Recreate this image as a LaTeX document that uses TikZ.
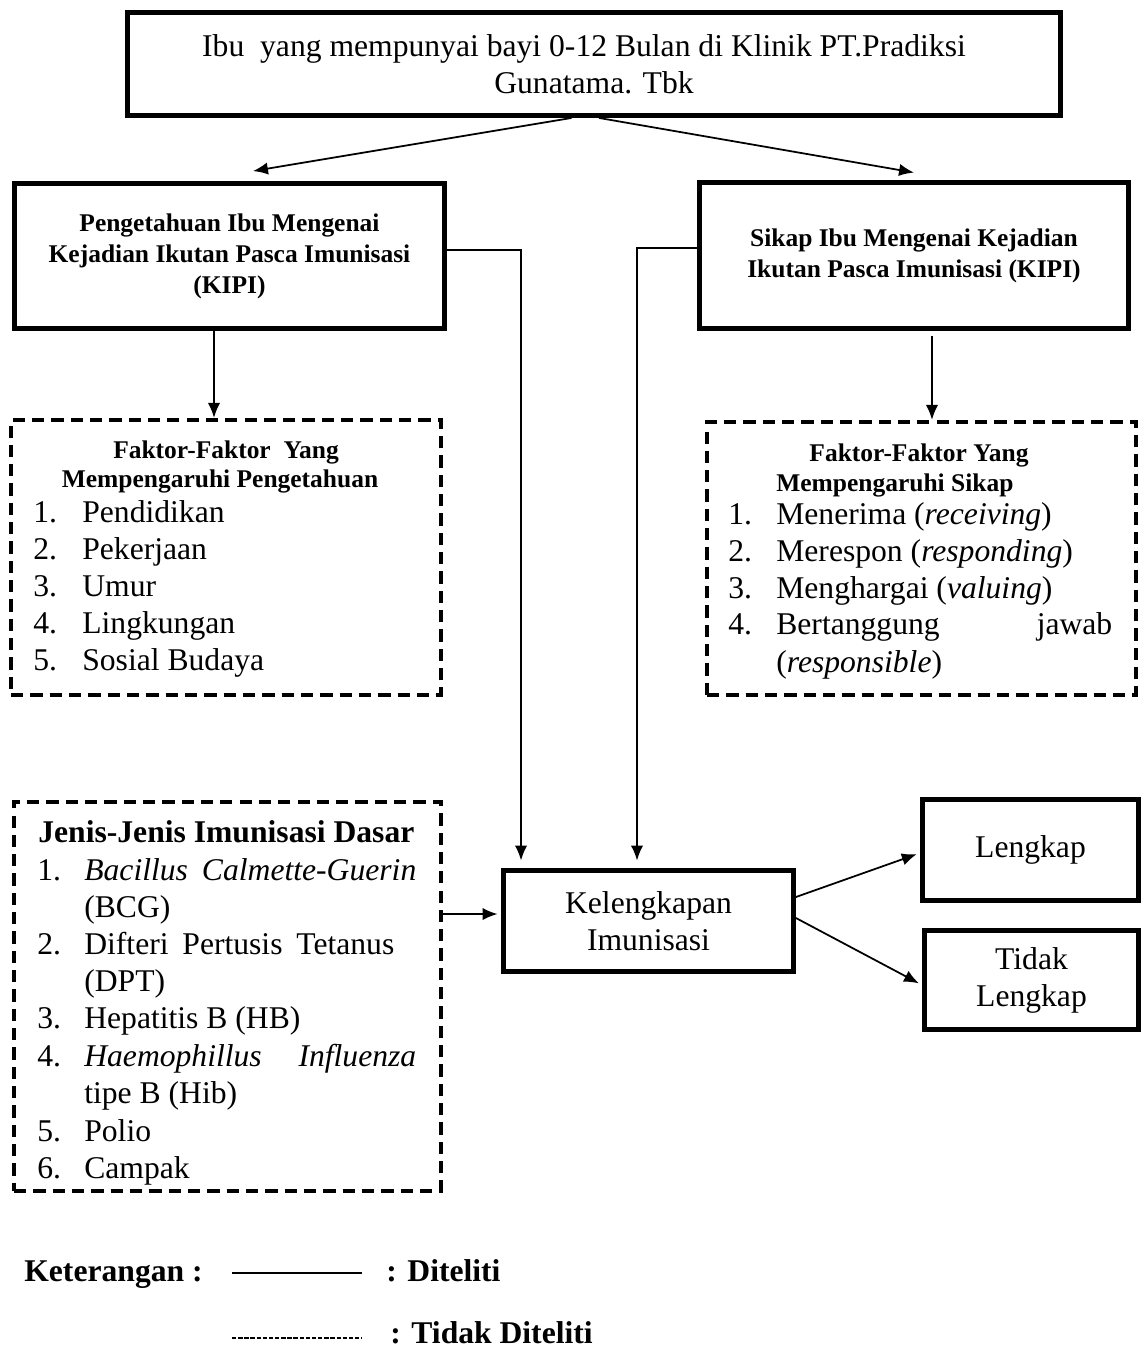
\documentclass[tikz,border=0pt]{standalone}
\usepackage{fontspec}
\setmainfont{Liberation Serif}
\usetikzlibrary{arrows.meta}

\tikzstyle{kotak} = [draw, line width=2.8pt, align=center, inner sep=0pt]
\tikzstyle{putus} = [draw, line width=2.4pt, dash pattern=on 7pt off 4pt, inner sep=0pt]
\tikzstyle{judul} = [font=\fontsize{14.5}{17.6}\selectfont\bfseries, align=center, inner sep=0pt]
\tikzstyle{isi} = [font=\fontsize{18}{21}\selectfont, anchor=base west, inner sep=0pt]
\tikzstyle{panah} = [-{Latex[length=8.5pt,width=7pt]}, line width=1pt]

\begin{document}
\begin{tikzpicture}[x=0.02cm, y=-0.02cm,
font=\fontsize{18}{21}\selectfont,
]
\useasboundingbox (0,0) rectangle (1141,1352);

%IBU
\node[kotak, minimum width=18.66cm, minimum height=2.06cm] (ibu) at (594,64) {Ibu\ \ yang mempunyai bayi 0-12 Bulan di Klinik PT.Pradiksi\hspace*{0.4cm}\\Gunatama. Tbk};

%PENGETAHUAN + SIKAP
\node[kotak, judul, minimum width=8.6cm, minimum height=2.9cm] (peng) at (229.5,256) {Pengetahuan Ibu Mengenai\\Kejadian Ikutan Pasca Imunisasi\\(KIPI)};
\node[kotak, judul, minimum width=8.57cm, minimum height=2.92cm] (sikap) at (914,255.5) {Sikap Ibu Mengenai Kejadian\\Ikutan Pasca Imunisasi (KIPI)};
\draw[panah] ([xshift=-0.45cm]ibu.south) -- ([xshift=0.47cm,yshift=0.2cm]peng.north);
\draw[panah] ([xshift=0.1cm]ibu.south) -- ([yshift=0.15cm]sikap.north);

%FAKTOR PENGETAHUAN
\node[putus, minimum width=8.6cm, minimum height=5.5cm] (fpeng) at (226,557.5) {};
\node[judul, anchor=base] (fpj1) at (226,458) {Faktor-Faktor\ \ Yang};
\node[judul, anchor=base] (fpj2) at (220,487) {Mempengaruhi Pengetahuan};
\foreach \n/\t in {1/Pendidikan,2/Pekerjaan,3/Umur,4/Lingkungan,5/Sosial Budaya} {%
 \node[isi] (fp\n) at (33,{522+37*(\n-1)}) {\makebox[0.98cm][l]{\n.}\t};
}
\draw[panah] ([xshift=-0.31cm]peng.south) -- ([xshift=-0.31cm]peng.south |- fpeng.north);

%FAKTOR SIKAP
\node[putus, minimum width=8.58cm, minimum height=5.46cm] (fsikap) at (921.5,558.5) {};
\node[judul, anchor=base] (fsj1) at (919,461) {Faktor-Faktor Yang};
\node[judul, anchor=base west] (fsj2) at (776,491) {Mempengaruhi Sikap};
\node[isi] (fs1) at (728,524) {\makebox[0.96cm][l]{1.}Menerima (\textit{receiving})};
\node[isi] (fs2) at (728,561) {\makebox[0.96cm][l]{2.}Merespon (\textit{responding})};
\node[isi] (fs3) at (728,598) {\makebox[0.96cm][l]{3.}Menghargai (\textit{valuing})};
\node[isi] (fs4) at (728,634) {\makebox[0.96cm][l]{4.}\makebox[6.72cm][s]{Bertanggung jawab}};
\node[isi] (fs4b) at (776,672) {(\textit{responsible})};
\draw[panah] ([xshift=0.36cm,yshift=-0.1cm]sikap.south) -- ([xshift=0.36cm]sikap.south |- fsikap.north);

%JENIS IMUNISASI
\node[putus, minimum width=8.54cm, minimum height=7.78cm] (jenis) at (227.5,996.5) {};
\node[isi, font=\fontsize{18}{21}\selectfont\bfseries] (jj) at (38,842) {Jenis-Jenis Imunisasi Dasar};
\node[isi] (js1) at (37,880) {\makebox[0.94cm][l]{1.}\makebox[6.64cm][s]{\textit{Bacillus} \textit{Calmette-Guerin}}};
\node[isi] (js1b) at (84,917) {(BCG)};
\node[isi] (js2) at (37,954) {\makebox[0.94cm][l]{2.}\makebox[6.2cm][s]{Difteri Pertusis Tetanus}};
\node[isi] (js2b) at (84,991) {(DPT)};
\node[isi] (js3) at (37,1028) {\makebox[0.94cm][l]{3.}Hepatitis B (HB)};
\node[isi] (js4) at (37,1066) {\makebox[0.94cm][l]{4.}\makebox[6.64cm][s]{\textit{Haemophillus} \textit{Influenza}}};
\node[isi] (js4b) at (84,1103) {tipe B (Hib)};
\node[isi] (js5) at (37,1141) {\makebox[0.94cm][l]{5.}Polio};
\node[isi] (js6) at (37,1178) {\makebox[0.94cm][l]{6.}Campak};

%KELENGKAPAN
\node[kotak, minimum width=5.8cm, minimum height=2.02cm] (kel) at (648.5,921) {Kelengkapan\\Imunisasi};
\node[kotak, minimum width=4.32cm, minimum height=2.02cm] (leng) at (1030.5,850) {Lengkap};
\node[kotak, minimum width=4.28cm, minimum height=1.98cm] (tidak) at (1031.5,980) {Tidak\\Lengkap};
\draw[panah] ([yshift=0.12cm]peng.east) -| ([xshift=-2.55cm,yshift=0.15cm]kel.north);
\draw[panah] ([yshift=0.15cm]sikap.west) -| ([xshift=-0.23cm,yshift=0.15cm]kel.north);
\draw[panah, shorten >=2pt] ([yshift=1.65cm]jenis.east) -- ([yshift=1.65cm]jenis.east -| kel.west);
\draw[panah, shorten >=2pt] ([yshift=0.48cm]kel.east) -- ([yshift=-0.06cm]leng.west);
\draw[panah, shorten >=2pt] ([yshift=0.06cm]kel.east) -- ([yshift=-0.1cm]tidak.west);

%KETERANGAN
\node[isi, font=\fontsize{18}{21}\selectfont\bfseries] (ket) at (24,1281) {Keterangan :};
\coordinate (ga1) at (232,1273);
\coordinate (ga2) at (362,1273);
\draw[line width=1pt] (ga1) -- (ga2);
\node[isi, font=\fontsize{18}{21}\selectfont\bfseries] (dit) at (386,1281) {: Diteliti};
\coordinate (gb1) at (232,1338);
\coordinate (gb2) at (362,1338);
\draw[line width=0.8pt, dash pattern=on 2.5pt off 1pt] (gb1) -- (gb2);
\node[isi, font=\fontsize{18}{21}\selectfont\bfseries] (tdit) at (390,1343) {: Tidak Diteliti};

\end{tikzpicture}
\end{document}
